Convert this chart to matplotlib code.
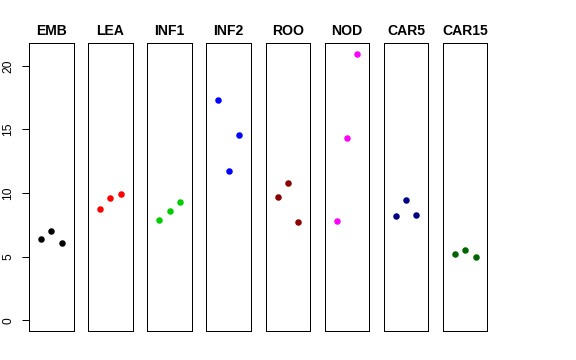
import matplotlib
matplotlib.use("Agg")
import matplotlib.pyplot as plt

categories = ["EMB", "LEA", "INF1", "INF2", "ROO", "NOD", "CAR5", "CAR15"]
colors = ["#000000", "#FF0000", "#00CD00", "#0000FF", "#8B0000", "#FF00FF", "#000080", "#006400"]
values = {
    "EMB":   [6.38, 7.03, 6.09],
    "LEA":   [8.74, 9.65, 9.94],
    "INF1":  [7.92, 8.60, 9.28],
    "INF2":  [17.31, 11.72, 14.54],
    "ROO":   [9.70, 10.75, 7.71],
    "NOD":   [7.77, 14.33, 20.94],
    "CAR5":  [8.21, 9.49, 8.24],
    "CAR15": [5.21, 5.55, 4.94],
}
reps = [1, 2, 3]
yticks = [0, 5, 10, 15, 20]

plt.rcParams['font.family'] = ['Liberation Sans', 'DejaVu Sans']
fig = plt.figure(figsize=(8, 5), dpi=72)
W, H = 576, 360
ymax = 20.95
pad = 0.04 * ymax
for i, (cat, col) in enumerate(zip(categories, colors)):
    left = 29 + i * 59.14
    ax = fig.add_axes([left / W, (360 - 331) / H, 44.5 / W, 288 / H])
    ax.plot(reps, values[cat], 'o', color=col, markersize=6.5, markeredgewidth=0)
    ax.set_xlim(-0.16, 4.16)
    ax.set_ylim(-pad, ymax + pad)
    ax.set_xticks([])
    ax.set_title(cat, fontsize=14, fontweight='bold', pad=7.5)
    for s in ax.spines.values():
        s.set_linewidth(1)
        s.set_color('black')
    if i == 0:
        ax.set_yticks(yticks)
        ax.set_yticklabels([str(t) for t in yticks], rotation=90, va='center', fontsize=12)
        ax.tick_params(axis='y', length=7.5, width=1, pad=7)
    else:
        ax.set_yticks([])

fig.savefig("out.png", dpi=72)
